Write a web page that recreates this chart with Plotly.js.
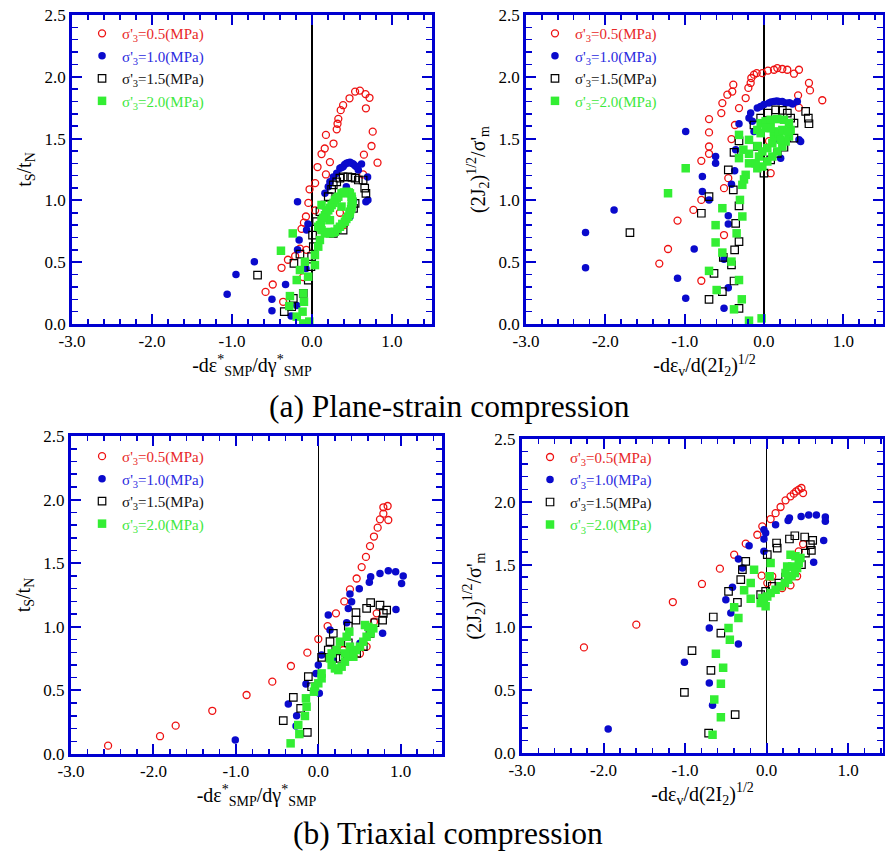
<!DOCTYPE html>
<html>
<head>
<meta charset="utf-8">
<script src="https://cdn.plot.ly/plotly-3.0.1.min.js"></script>
<style>html,body{margin:0;padding:0;background:#fff;}#chart{width:885px;height:855px;}</style>
</head>
<body>
<div id="chart"></div>
<script>
// ---------- Data ----------
const seriesNames = ["σ'<sub>3</sub>=0.5(MPa)", "σ'<sub>3</sub>=1.0(MPa)", "σ'<sub>3</sub>=1.5(MPa)", "σ'<sub>3</sub>=2.0(MPa)"];
const xTickVals = [-3, -2, -1, 0, 1];
const xTickText = ['-3.0', '-2.0', '-1.0', '0.0', '1.0'];

// (a) Plane-strain, left: t_S/t_N vs -dε*/dγ*
const alRedX = [0.60,0.54,0.47,0.39,0.36,0.33,0.32,0.31,0.175,0.16,0.12,0.27,0.225,0.175,0.07,0.04,0.76,0.745,0.65,0.82,0.675,0.72,0.67,-0.03,-0.045,0.04,-0.075,-0.10,-0.13,-0.07,-0.15,-0.21,-0.30,-0.38,-0.49,-0.58,-0.36,-0.11,0.35,0.40,0.64];
const alRedY = [1.888,1.88,1.826,1.77,1.73,1.66,1.62,1.575,1.53,1.42,1.375,1.46,1.31,1.21,1.27,1.14,1.556,1.44,1.37,1.305,1.745,1.83,1.86,1.09,0.98,0.92,0.87,0.82,0.77,0.60,0.61,0.55,0.52,0.455,0.32,0.26,0.18,0.38,0.90,0.80,1.21];
const alBlueX = [0.433,0.475,0.517,0.558,0.58,0.39,0.35,0.31,0.267,0.225,0.204,0.1625,0.62,0.696,0.675,0.70,0.475,-0.18,-0.16,-0.18,-0.05,-0.067,-0.075,-0.33,-0.50,-0.50,-0.72,-0.95,-1.06,-0.26,-0.19,0.43,0.52,0.454,0.496,0.54,0.41,0.37];
const alBlueY = [1.30,1.308,1.294,1.273,1.246,1.273,1.26,1.22,1.19,1.15,1.11,1.057,1.294,1.19,0.99,1.003,0.868,0.99,0.68,0.60,0.81,0.76,0.45,0.32,0.20,0.108,0.504,0.40,0.24,0.065,0.15,1.11,1.0,1.305,1.30,1.28,1.29,1.267];
const alBlackX = [0.35,0.39,0.45,0.50,0.54,0.58,0.64,0.66,0.675,0.54,0.52,0.31,0.267,0.246,0.204,0.1625,0.10,0.058,0.008,0.017,-0.004,-0.0125,-0.046,-0.108,-0.225,-0.15,-0.68,-0.346,-0.254,-0.233,0.39,0.267];
const alBlackY = [1.18,1.19,1.19,1.187,1.18,1.165,1.165,1.10,1.057,0.976,0.936,1.15,1.125,1.09,1.03,0.963,0.909,0.828,0.72,0.626,0.545,0.464,0.356,0.248,0.49,0.566,0.396,0.10,0.14,0.208,0.76,0.733];
const alGreenX = [0.433,0.475,0.496,0.508,0.496,0.475,0.454,0.4125,0.35,0.2875,0.225,0.1625,0.12,0.10,0.12,0.1625,0.204,0.246,0.2875,0.33,0.37,0.37,0.225,0.12,0.079,0.10,0.079,0.0375,0.0375,-0.046,-0.108,-0.10,-0.117,-0.19,-0.108,-0.033,-0.275,-0.283,-0.19,-0.15,-0.0875,-0.24,-0.3875,0.19,0.26,0.32,0.38,0.43,0.47,0.49,0.50,0.50,0.46,0.40,0.31,0.27,0.225,0.18,0.14,0.11];
const alGreenY = [1.07,1.057,1.03,0.99,0.95,0.909,0.868,0.828,0.787,0.747,0.733,0.733,0.76,0.80,0.84,0.88,0.92,0.963,1.003,1.03,1.057,0.95,0.84,0.963,0.787,0.68,0.626,0.558,0.477,0.383,0.248,0.18,0.10,0.06,0.005,0.02,0.226,0.146,0.356,0.437,0.504,0.733,0.593,0.745,0.74,0.77,0.81,0.85,0.89,0.93,0.97,1.01,1.065,1.065,1.017,0.98,0.94,0.90,0.86,0.78];

// (a) Plane-strain, right: (2J2)^1/2/σ'm vs -dεv/d(2I2)^1/2
const arRedX = [-0.16,-0.126,-0.092,-0.021,0.05,0.126,0.168,0.231,0.294,0.378,0.441,0.567,0.58,0.735,0.43,0.44,-0.168,-0.197,-0.387,-0.40,-0.462,-0.525,-0.538,-0.231,-0.315,-0.693,-0.693,-0.693,-0.693,-0.79,-0.366,-0.41,-0.89,-0.504,-0.45,-0.79,-0.504,-0.79,0.063,0.084,-1.09,-1.21,-1.32];
const arRedY = [1.99,2.017,2.03,2.03,2.05,2.057,2.07,2.063,2.057,2.025,2.057,1.95,1.89,1.81,1.85,1.75,1.95,1.91,1.936,1.88,1.855,1.787,1.706,1.828,1.747,1.658,1.55,1.436,1.377,1.32,1.61,1.496,0.923,1.099,1.18,1.004,0.72,0.35,1.48,1.22,0.837,0.607,0.489];
const arBlueX = [-0.168,-0.189,-0.147,-0.084,-0.042,0.063,0.126,0.189,0.273,0.42,0.441,0.462,0.21,-0.315,-0.357,-0.37,-0.41,-0.45,-0.45,-0.504,-0.45,-0.504,-0.61,-0.61,-0.777,-0.777,-0.693,-0.88,-0.987,-1.09,-0.987,-1.89,-2.25,-2.25,0.126,-0.126,0.0,0.09,0.16,0.23,0.32,0.36];
const arBlueY = [1.706,1.666,1.64,1.747,1.76,1.787,1.80,1.80,1.787,1.80,1.49,1.477,1.342,1.62,1.41,1.24,1.13,0.875,0.81,0.524,0.294,0.127,1.355,1.30,1.193,1.072,1.004,0.607,1.558,0.37,0.208,0.923,0.74,0.456,1.49,1.558,1.775,1.795,1.805,1.80,1.79,1.78];
const arBlackX = [-0.126,-0.042,0.05,0.147,0.231,0.294,0.336,0.378,0.525,0.559,0.567,0.378,0.252,0.168,0.084,0.0,-0.084,-0.315,-0.378,-0.45,-0.387,-0.315,-0.357,-0.315,-0.37,-0.41,-0.378,-0.525,-0.693,-0.315,-0.63,-0.513,-0.693,-0.79,-1.69];
const arBlackY = [1.61,1.666,1.706,1.733,1.728,1.706,1.666,1.625,1.72,1.666,1.62,1.504,1.43,1.38,1.328,1.22,1.436,1.482,1.388,1.247,1.085,0.956,0.815,0.667,0.60,0.478,0.348,0.262,0.20,0.127,0.41,0.54,1.031,0.896,0.74];
const arGreenX = [-0.315,-0.084,-0.189,-0.084,-0.26,-0.189,-0.315,-0.189,-0.231,-0.252,-0.273,-0.303,-0.273,-0.525,-0.61,-0.61,-0.525,-0.41,-0.345,-0.693,-0.597,-0.315,-0.28,-0.378,-0.189,-0.03,-0.987,-1.21,-0.042,0.021,0.084,0.168,0.252,0.315,0.336,0.315,0.273,0.231,0.168,0.105,0.042,-0.021,-0.084,-0.105,-0.063,-0.021,0.042,0.105,0.126,0.126,0.084,0.021,-0.042,0.189,0.231,0.294,0.21];
const arGreenY = [1.53,1.57,1.49,1.44,1.41,1.377,1.342,1.30,1.207,1.17,1.126,1.004,0.87,0.937,0.80,0.66,0.578,0.505,0.734,0.43,0.275,0.356,0.20,0.119,0.027,0.046,1.26,1.058,1.625,1.64,1.652,1.658,1.652,1.625,1.57,1.517,1.477,1.436,1.396,1.355,1.315,1.274,1.26,1.30,1.355,1.396,1.423,1.463,1.517,1.558,1.585,1.585,1.544,1.544,1.57,1.558,1.49];

// (b) Triaxial, left
const blRedX = [0.841,0.789,0.789,0.748,0.72,0.675,0.627,0.578,0.526,0.465,0.384,0.315,0.214,0.113,0.0,-0.133,-0.332,-0.558,-0.87,-1.286,-1.73,-1.92,-2.55,0.849,0.708,0.675,0.505,0.303,0.586];
const blRedY = [1.95,1.94,1.89,1.845,1.78,1.71,1.635,1.55,1.47,1.38,1.295,1.20,1.106,1.006,0.904,0.797,0.692,0.569,0.464,0.34,0.223,0.14,0.066,1.84,1.106,1.04,0.79,0.818,0.844];
const blBlueX = [0.849,0.938,1.03,1.01,0.942,0.78,0.748,0.635,0.619,0.497,0.384,0.404,0.364,0.344,0.121,0.142,0.04,0.0,0.012,-0.028,-0.15,-0.263,-0.27,-0.364,-1.007,0.182,0.505];
const blBlueY = [1.44,1.433,1.40,1.34,1.137,0.949,1.42,1.394,1.35,1.30,1.258,1.198,1.145,1.032,1.093,0.975,0.778,0.70,0.477,0.634,0.55,0.30,0.22,0.393,0.11,0.739,0.87];
const blBlackX = [0.635,0.586,0.748,0.789,0.829,0.78,0.687,0.457,0.457,0.364,0.364,0.303,0.182,0.142,0.121,0.04,-0.121,-0.081,-0.303,-0.214,-0.425,-0.133,0.627,0.546,0.465,0.263];
const blBlackY = [1.19,1.145,1.171,1.106,1.132,1.053,1.032,1.111,1.053,1.006,0.875,0.765,0.949,0.883,0.818,0.76,0.608,0.529,0.445,0.359,0.262,0.17,0.949,0.844,0.791,0.752];
const blGreenX = [0.566,0.607,0.667,0.635,0.586,0.546,0.505,0.457,0.404,0.364,0.323,0.283,0.243,0.202,0.162,0.142,0.162,0.222,0.263,0.376,0.344,0.384,0.425,0.323,0.04,0.04,-0.04,-0.053,-0.15,-0.142,-0.162,-0.243,-0.23,-0.336,0.0];
const blGreenY = [1.014,1.00,0.988,0.949,0.922,0.883,0.844,0.818,0.791,0.765,0.726,0.687,0.66,0.673,0.70,0.752,0.791,0.818,0.883,0.962,0.922,0.844,0.765,0.791,0.595,0.634,0.529,0.49,0.438,0.372,0.299,0.228,0.157,0.084,0.556];

// (b) Triaxial, right
const brRedX = [0.427,0.394,0.362,0.333,0.293,0.232,0.171,0.11,0.049,-0.053,-0.114,-0.256,-0.398,-0.573,-0.793,-1.15,-1.598,-2.24,0.447,0.447,0.394,0.374,0.293,0.069,-0.061,0.008,0.191];
const brRedY = [2.11,2.097,2.083,2.065,2.044,2.012,1.959,1.91,1.863,1.805,1.738,1.667,1.579,1.468,1.346,1.202,1.022,0.841,2.07,1.664,1.606,1.407,1.335,1.407,1.412,1.353,1.314];
const brBlueX = [0.72,0.72,0.61,0.516,0.423,0.28,0.264,0.11,-0.033,-0.012,-0.033,-0.033,-0.215,0.70,0.577,-0.346,-0.297,-0.419,-0.50,-0.439,-0.346,-0.703,-1.008,-0.703,-0.663,-1.943,0.049];
const brBlueY = [1.879,1.845,1.895,1.895,1.884,1.871,1.852,1.818,1.778,1.752,1.704,1.606,1.65,1.693,1.518,1.545,1.473,1.319,1.221,1.115,0.868,0.995,0.722,0.557,0.38,0.191,1.274];
const brBlackX = [0.346,0.28,0.467,0.565,0.537,0.549,0.122,0.13,0.008,0.427,0.305,0.232,0.15,0.069,-0.012,-0.073,-0.256,-0.297,-0.317,-0.467,-0.358,-0.654,-0.561,-0.915,-0.683,-1.008,-0.386,-0.711,0.476];
const brBlackY = [1.73,1.704,1.72,1.693,1.659,1.614,1.672,1.632,1.579,1.50,1.433,1.401,1.353,1.327,1.287,1.261,1.526,1.46,1.38,1.287,1.20,1.083,0.955,0.815,0.658,0.483,0.305,0.159,1.592];
const brGreenX = [0.293,0.354,0.415,0.394,0.374,0.346,0.305,0.264,0.224,0.171,0.11,0.049,0.008,-0.033,-0.073,-0.053,-0.012,0.037,0.049,0.232,0.313,0.252,-0.154,-0.195,-0.276,-0.195,-0.398,-0.346,-0.467,-0.451,-0.622,-0.533,-0.561,-0.642,-0.561,-0.663];
const brGreenY = [1.579,1.566,1.553,1.513,1.473,1.433,1.407,1.38,1.353,1.327,1.30,1.274,1.247,1.208,1.194,1.234,1.168,1.407,1.513,1.433,1.486,1.486,1.46,1.353,1.295,1.229,1.16,1.075,0.995,0.902,0.791,0.679,0.552,0.425,0.284,0.146];

// ---------- Styles ----------
const FONT = 'Liberation Serif, Times New Roman, serif';
const AXBLUE = '#0000d0';
const styles = [
  {symbol:'circle-open', color:'#ee1111', size:7, lw:1.3, text:'#e82828'},
  {symbol:'circle', color:'#0a0acc', size:7.5, lw:0, text:'#2a2ae0'},
  {symbol:'square-open', color:'#000000', size:7.5, lw:1.2, text:'#111111'},
  {symbol:'square', color:'#33ee33', size:8.5, lw:0, text:'#3ee83e'}
];

const panels = [
  {xs:[alRedX,alBlueX,alBlackX,alGreenX], ys:[alRedY,alBlueY,alBlackY,alGreenY], xa:'x', ya:'y', leg:'legend'},
  {xs:[arRedX,arBlueX,arBlackX,arGreenX], ys:[arRedY,arBlueY,arBlackY,arGreenY], xa:'x2', ya:'y2', leg:'legend2'},
  {xs:[blRedX,blBlueX,blBlackX,blGreenX], ys:[blRedY,blBlueY,blBlackY,blGreenY], xa:'x3', ya:'y3', leg:'legend3'},
  {xs:[brRedX,brBlueX,brBlackX,brGreenX], ys:[brRedY,brBlueY,brBlackY,brGreenY], xa:'x4', ya:'y4', leg:'legend4'}
];

const traces = [];
panels.forEach(p => {
  for (let i = 0; i < 4; i++) {
    const s = styles[i];
    traces.push({
      type:'scatter', mode:'markers',
      x:p.xs[i], y:p.ys[i], xaxis:p.xa, yaxis:p.ya, legend:p.leg,
      name:'<span style="color:' + s.text + '">' + seriesNames[i] + '</span>',
      marker:{symbol:s.symbol, size:s.size, color:s.color, line:{color:s.color, width:s.lw}},
      hoverinfo:'x+y'
    });
  }
});

function xAxis(domain, range, title, anchor) {
  return {
    domain:domain, range:range, anchor:anchor,
    tickmode:'array', tickvals:xTickVals, ticktext:xTickText,
    showline:true, linecolor:AXBLUE, linewidth:3, mirror:'allticks',
    ticks:'inside', ticklen:10, tickwidth:2, tickcolor:AXBLUE,
    minor:{tickmode:'linear', tick0:0, dtick:0.2, ticks:'inside', ticklen:5, tickwidth:1.5, tickcolor:AXBLUE, showgrid:false},
    showgrid:false, zeroline:true, zerolinecolor:'#000000', zerolinewidth:1.2,
    tickfont:{family:FONT, size:17, color:'#000'},
    title:{text:title, font:{family:FONT, size:20, color:'#000'}, standoff:8}
  };
}
function yAxis(domain, title, anchor) {
  return {
    domain:domain, range:[0,2.5], anchor:anchor,
    tickmode:'linear', tick0:0, dtick:0.5, tickformat:'.1f',
    showline:true, linecolor:AXBLUE, linewidth:3, mirror:'allticks',
    ticks:'inside', ticklen:10, tickwidth:2, tickcolor:AXBLUE,
    minor:{tickmode:'linear', tick0:0, dtick:0.1, ticks:'inside', ticklen:6, tickwidth:1.5, tickcolor:AXBLUE, showgrid:false},
    showgrid:false, zeroline:false,
    tickfont:{family:FONT, size:17, color:'#000'},
    title:{text:title, font:{family:FONT, size:20, color:'#000'}, standoff:8}
  };
}

const xTitleA = '-dε<sup>*</sup><sub>SMP</sub>/dγ<sup>*</sup><sub>SMP</sub>';
const xTitleB = '-dε<sub>v</sub>/d(2I<sub>2</sub>)<sup>1/2</sup>';
const yTitleA = 't<sub>S</sub>/t<sub>N</sub>';
const yTitleB = "(2J<sub>2</sub>)<sup>1/2</sup>/σ'<sub>m</sub>";

function legendAt(x, y) {
  return {x:x, y:y, xanchor:'left', yanchor:'top', bgcolor:'rgba(0,0,0,0)', borderwidth:0,
          font:{family:FONT, size:15, color:'#000'}, itemsizing:'trace', tracegroupgap:0};
}

const layout = {
  width:885, height:855, margin:{l:0, r:0, t:0, b:0},
  paper_bgcolor:'#fff', plot_bgcolor:'#fff', font:{family:FONT},
  xaxis: xAxis([0.0814, 0.488], [-3, 1.5], xTitleA, 'y'),
  yaxis: yAxis([0.621, 0.9825], yTitleA, 'x'),
  xaxis2: xAxis([0.5944, 0.9977], [-3, 1.5], xTitleB, 'y2'),
  yaxis2: yAxis([0.621, 0.9825], yTitleB, 'x2'),
  xaxis3: xAxis([0.0802, 0.4994], [-3, 1.5], xTitleA, 'y3'),
  yaxis3: yAxis([0.1181, 0.490], yTitleA, 'x3'),
  xaxis4: xAxis([0.5898, 0.998], [-3, 1.43], xTitleB, 'y4'),
  yaxis4: yAxis([0.1193, 0.4865], yTitleB, 'x4'),
  legend: legendAt(0.0927, 0.98),
  legend2: legendAt(0.6045, 0.98),
  legend3: legendAt(0.0927, 0.4855),
  legend4: legendAt(0.5989, 0.4845),
  annotations:[
    {text:'(a) Plane-strain compression', xref:'paper', yref:'paper', x:0.508, y:(855-407)/855, xanchor:'center', yanchor:'middle', showarrow:false, font:{family:FONT, size:31.5, color:'#000'}},
    {text:'(b) Triaxial compression', xref:'paper', yref:'paper', x:0.506, y:(855-833)/855, xanchor:'center', yanchor:'middle', showarrow:false, font:{family:FONT, size:31.5, color:'#000'}}
  ]
};

Plotly.newPlot('chart', traces, layout, {displayModeBar:false, staticPlot:true});
</script>
</body>
</html>
